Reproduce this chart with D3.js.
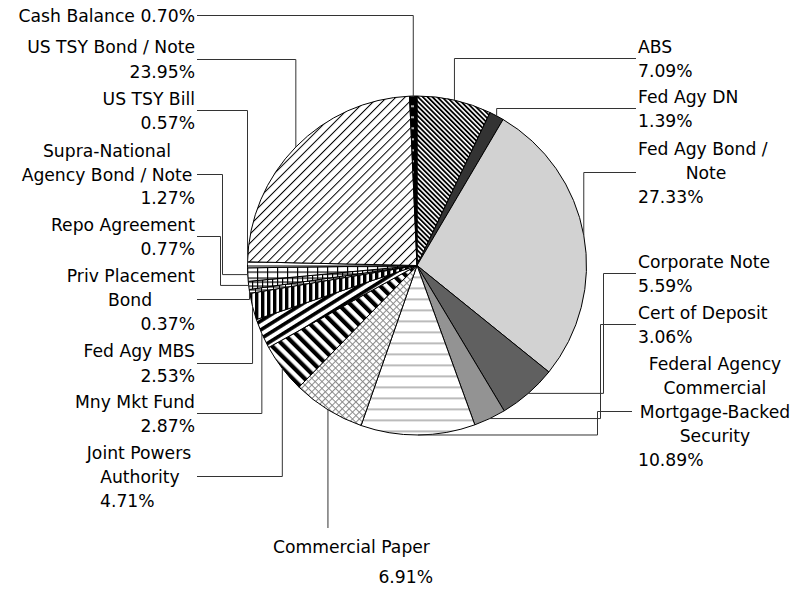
<!DOCTYPE html>
<html>
<head>
<meta charset="utf-8">
<script src="https://cdn.jsdelivr.net/npm/d3@7"></script>
<style>
  body { margin: 0; background: #fff; }
  text { font-family: "DejaVu Sans", sans-serif; font-size: 17.2px; fill: #000; }
</style>
</head>
<body>
<script>
// data, clockwise from 12 o'clock
const categories = ["ABS", "Fed Agy DN", "Fed Agy Bond / Note", "Corporate Note", "Cert of Deposit",
  "Federal Agency Commercial Mortgage-Backed Security", "Commercial Paper", "Joint Powers Authority",
  "Mny Mkt Fund", "Fed Agy MBS", "Priv Placement Bond", "Repo Agreement",
  "Supra-National Agency Bond / Note", "US TSY Bill", "US TSY Bond / Note", "Cash Balance"];
const shares = [7.09, 1.39, 27.33, 5.59, 3.06, 10.89, 6.91, 4.71, 2.87, 2.53, 0.37, 0.77, 1.27, 0.57, 23.95, 0.70];
// wrapped label text (percentage is added as the last line)
const labelLines = [["ABS"], ["Fed Agy DN"], ["Fed Agy Bond /", "Note"], ["Corporate Note"], ["Cert of Deposit"],
  ["Federal Agency", "Commercial", "Mortgage-Backed", "Security"], ["Commercial Paper"], ["Joint Powers", "Authority"],
  ["Mny Mkt Fund"], ["Fed Agy MBS"], ["Priv Placement", "Bond"], ["Repo Agreement"],
  ["Supra-National", "Agency Bond / Note"], ["US TSY Bill"], ["US TSY Bond / Note"], []];

let svg = d3.select('body')
  .append('svg')
  .attr("width", 810)
  .attr("height", 589);

let cx = 417, cy = 265.5, radius = 169.5;
let fmt = v => d3.format(".2f")(v) + "%";

// patterns
let defs = svg.append("defs");

function stripes(id, period, width, angle, color, bg) {
  let p = defs.append("pattern").attr("id", id)
    .attr("patternUnits", "userSpaceOnUse")
    .attr("width", period).attr("height", period)
    .attr("patternTransform", `rotate(${angle})`);
  p.append("rect").attr("width", period).attr("height", period).attr("fill", bg);
  p.append("rect").attr("width", width).attr("height", period).attr("fill", color);
}
function grid(id, w, h, angle, color, lw) {
  let p = defs.append("pattern").attr("id", id)
    .attr("patternUnits", "userSpaceOnUse")
    .attr("width", w).attr("height", h)
    .attr("patternTransform", `rotate(${angle})`);
  p.append("rect").attr("width", w).attr("height", h).attr("fill", "#fff");
  p.append("rect").attr("width", w).attr("height", lw).attr("fill", color);
  p.append("rect").attr("width", lw).attr("height", h).attr("fill", color);
}

stripes("absP", 3.4, 1.8, -45, "#000", "#fff");
stripes("bondP", 6.4, 1, 45, "#000", "#fff");
stripes("jpaP", 8.5, 4.2, -45, "#000", "#fff");
stripes("mmfP", 7.5, 3.6, 58, "#000", "#fff");
stripes("mbsP", 6, 3.4, 0, "#000", "#fff");
grid("cpP", 4.8, 4.8, 45, "#8a8a8a", 1);
grid("supraP", 10, 6, 0, "#000", 1.2);
grid("repoP", 5, 4, 0, "#000", 1.2);
grid("ppbP", 6, 3, 0, "#000", 1);

let hl = defs.append("pattern").attr("id", "facP")
  .attr("patternUnits", "userSpaceOnUse").attr("width", 10).attr("height", 11);
hl.append("rect").attr("width", 10).attr("height", 11).attr("fill", "#fff");
hl.append("rect").attr("width", 10).attr("height", 1.6).attr("fill", "#aaa");

let bl = defs.append("pattern").attr("id", "billP")
  .attr("patternUnits", "userSpaceOnUse").attr("width", 10).attr("height", 4);
bl.append("rect").attr("width", 10).attr("height", 4).attr("fill", "#fff");
bl.append("rect").attr("width", 10).attr("height", 1).attr("fill", "#000");

let cb = defs.append("pattern").attr("id", "cashP")
  .attr("patternUnits", "userSpaceOnUse").attr("width", 6).attr("height", 11);
cb.append("rect").attr("width", 6).attr("height", 11).attr("fill", "#000");
cb.append("rect").attr("x", 0).attr("y", 5).attr("width", 3).attr("height", 1.4).attr("fill", "#fff");

const fills = ["url(#absP)", "#333333", "#d2d2d2", "#606060", "#939393", "url(#facP)", "url(#cpP)",
  "url(#jpaP)", "url(#mmfP)", "url(#mbsP)", "url(#ppbP)", "url(#repoP)", "url(#supraP)", "url(#billP)",
  "url(#bondP)", "url(#cashP)"];

let pie = d3.pie().sort(null).value(d => d)(shares);
let arc = d3.arc().innerRadius(0).outerRadius(radius);

let g = svg.append("g").attr("transform", `translate(${cx},${cy})`);
g.selectAll("path").data(pie)
  .enter().append("path")
  .attr("d", arc)
  .attr("fill", (d, i) => fills[i])
  .attr("stroke", "#000")
  .attr("stroke-width", 1)
  .attr("stroke-linejoin", "round");

// label layout: first baseline, line step, per-line x/anchor, leader route
const layout = [
  { y0: 53, step: 24, lines: [[638, "start"], [638, "start"]], route: "hv", sx: 636 },
  { y0: 103, step: 24, lines: [[638, "start"], [638, "start"]], route: "hv", sx: 636 },
  { y0: 155, step: 24, lines: [[638, "start"], [706, "middle"], [638, "start"]], route: "hv", sx: 636 },
  { y0: 268, step: 24, lines: [[638, "start"], [638, "start"]], route: "hvh", elbow: 603, sx: 636 },
  { y0: 319, step: 24, lines: [[638, "start"], [638, "start"]], route: "hvh", elbow: 600, sx: 636 },
  { y0: 370, step: 24, lines: [[715, "middle"], [715, "middle"], [715, "middle"], [715, "middle"], [638, "start"]], route: "hvh", elbow: 597, sx: 632 },
  { y0: 553, step: 30, lines: [[273, "start"], [433, "end"]], route: "v", sy: 528 },
  { y0: 459, step: 24, lines: [[139, "middle"], [140, "middle"], [100, "start"]], route: "hv", sx: 197 },
  { y0: 408, step: 24, lines: [[195, "end"], [195, "end"]], route: "hv", sx: 197 },
  { y0: 357, step: 25, lines: [[195, "end"], [195, "end"]], route: "hv", sx: 197 },
  { y0: 282, step: 24, lines: [[195, "end"], [130, "middle"], [195, "end"]], route: "hv", sx: 197 },
  { y0: 231, step: 24, lines: [[195, "end"], [195, "end"]], route: "hvh", elbow: 220, sx: 197 },
  { y0: 157, step: 23.5, lines: [[107, "middle"], [107, "middle"], [195, "end"]], route: "hvh", elbow: 222, sx: 197 },
  { y0: 105, step: 24, lines: [[195, "end"], [195, "end"]], route: "hv", sx: 197 },
  { y0: 53, step: 25, lines: [[195, "end"], [195, "end"]], route: "hv", sx: 197 },
  { y0: 22, step: 24, lines: [[195, "end"]], route: "hv", sx: 197 }
];

let labels = pie.map((d, i) => {
  let mid = (d.startAngle + d.endAngle) / 2;
  let text = labelLines[i].length ? labelLines[i].concat([fmt(d.value)]) : [categories[i] + " " + fmt(d.value)];
  return {
    text: text,
    lay: layout[i],
    tx: cx + radius * Math.sin(mid),
    ty: cy - radius * Math.cos(mid)
  };
});

// leader lines
function leader(l) {
  let L = l.lay;
  let last = L.y0 + L.step * (l.text.length - 1);
  let ay = Math.round((L.y0 - 12 + last) / 2 - 1) + 0.5;
  if (L.route === "v") return `M${l.tx},${L.sy}V${l.ty}`;
  if (L.route === "hv") return `M${L.sx},${ay}H${l.tx}V${l.ty}`;
  return `M${L.sx},${ay}H${L.elbow + 0.5}V${l.ty}H${l.tx}`;
}
svg.append("g").selectAll("path").data(labels)
  .enter().append("path")
  .attr("d", leader)
  .attr("fill", "none")
  .attr("stroke", "#333")
  .attr("stroke-width", 1);

// label text
let lg = svg.append("g").selectAll("g").data(labels).enter().append("g");
lg.each(function (l) {
  d3.select(this).selectAll("text").data(l.text)
    .enter().append("text")
    .attr("x", (t, j) => l.lay.lines[j][0])
    .attr("y", (t, j) => l.lay.y0 + l.lay.step * j)
    .attr("text-anchor", (t, j) => l.lay.lines[j][1])
    .text(t => t);
});
</script>
</body>
</html>
